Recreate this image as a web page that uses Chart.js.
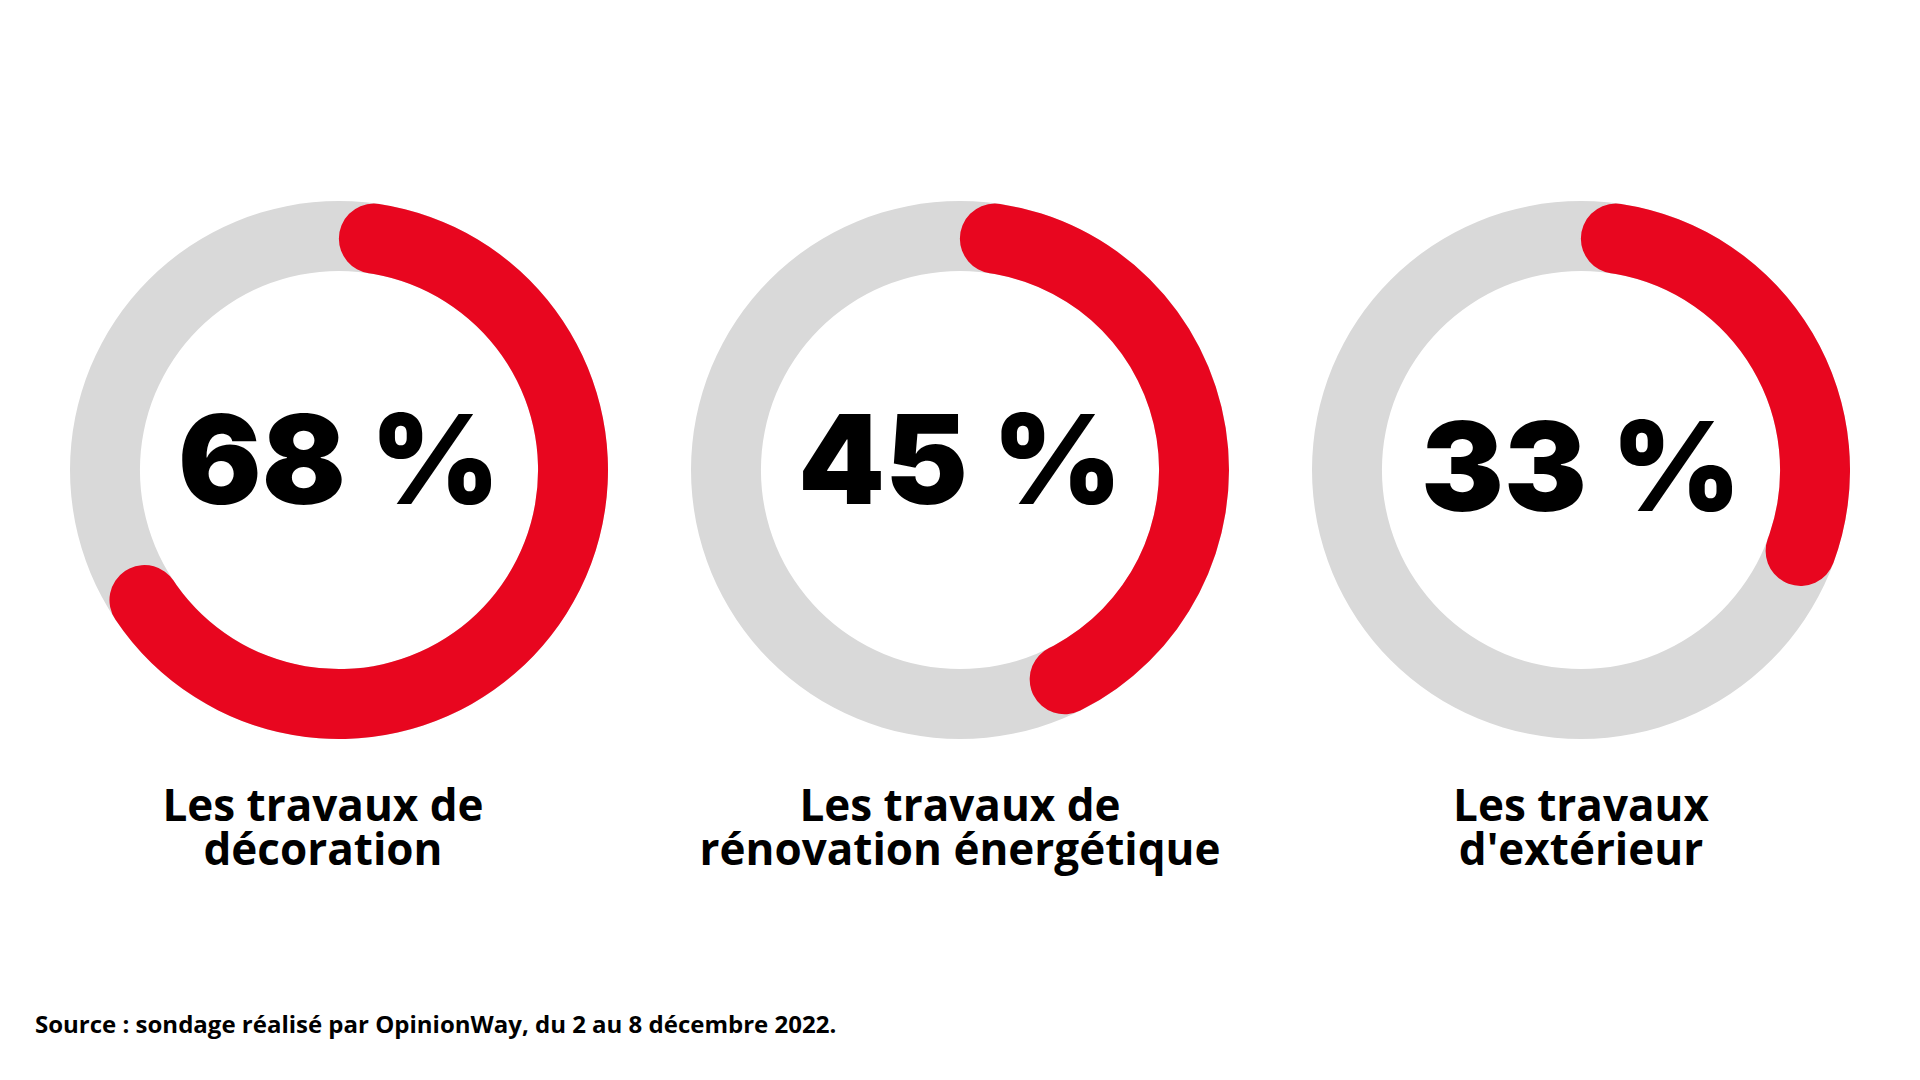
<!DOCTYPE html>
<html lang="fr">
<head>
<meta charset="utf-8">
<title>Travaux</title>
<script src="https://cdn.jsdelivr.net/npm/chart.js@4.4.0/dist/chart.umd.min.js"></script>
<style>
  html, body { margin: 0; padding: 0; background: #ffffff; }
  body { width: 1920px; height: 1080px; position: relative; overflow: hidden; font-family: "Open Sans", sans-serif; }
  .donut { position: absolute; width: 538px; height: 538px; }
  .donut canvas { position: absolute; left: 0; top: 0; }
  .label { position: absolute; width: 620px; text-align: center; font-weight: 700; font-size: 44px; line-height: 44px; color: #000; }
  .source { position: absolute; left: 35px; top: 1007px; font-weight: 700; font-size: 24px; color: #000; white-space: nowrap; }
</style>
</head>
<body>

<div class="donut" id="d0"><canvas id="bg0" width="538" height="538"></canvas><canvas id="fg0" width="538" height="538"></canvas></div>
<div class="donut" id="d1"><canvas id="bg1" width="538" height="538"></canvas><canvas id="fg1" width="538" height="538"></canvas></div>
<div class="donut" id="d2"><canvas id="bg2" width="538" height="538"></canvas><canvas id="fg2" width="538" height="538"></canvas></div>

<div class="label" id="l0"></div>
<div class="label" id="l1"></div>
<div class="label" id="l2"></div>

<div class="source" id="src">Source : sondage réalisé par OpinionWay, du 2 au 8 décembre 2022.</div>

<script>
document.addEventListener("DOMContentLoaded", function () {

    'use strict';

    // data
    var categories = [
        ['Les travaux de', 'décoration'],
        ['Les travaux de', 'rénovation énergétique'],
        ['Les travaux', "d'extérieur"]
    ];
    var values = [68, 45, 33];

    var red = '#e8061f';
    var grey = '#d9d9d9';

    var centersX = [339, 960, 1581];
    var centerY = 470;
    var labelShift = [-16, 0, 0];
    var textShift = [-3, -3, 4];

    var centerText = {
        id: 'centerText',
        afterDraw: function (chart) {
            var arc = chart.getDatasetMeta(0).data[0];
            var ctx = chart.ctx;
            var i = chart.options.plugins.centerText.index;
            ctx.save();
            ctx.font = '900 124px Inter, "Noto Sans", sans-serif';
            ctx.fillStyle = '#000';
            ctx.textAlign = 'center';
            ctx.textBaseline = 'middle';
            ctx.fillText(chart.data.datasets[0].data[0] + ' %', arc.x, arc.y + textShift[i]);
            ctx.restore();
        }
    };

    values.forEach(function (v, i) {
        var box = document.getElementById('d' + i);
        box.style.left = (centersX[i] - 269) + 'px';
        box.style.top = (centerY - 269) + 'px';

        var lab = document.getElementById('l' + i);
        lab.innerHTML = categories[i].join('<br>');
        lab.style.left = (centersX[i] - 310 + labelShift[i]) + 'px';
        lab.style.top = '782px';

        // full grey ring behind
        new Chart(document.getElementById('bg' + i), {
            type: 'doughnut',
            data: { labels: ['total'], datasets: [{ data: [100], backgroundColor: [grey], borderWidth: 0 }] },
            options: {
                responsive: false,
                animation: false,
                cutout: '74%',
                layout: { padding: 0 },
                plugins: { legend: { display: false }, tooltip: { enabled: false } }
            }
        });

        // red share with rounded ends
        new Chart(document.getElementById('fg' + i), {
            type: 'doughnut',
            data: {
                labels: [categories[i].join(' '), 'reste'],
                datasets: [{
                    data: [v, 100 - v],
                    backgroundColor: [red, 'rgba(0,0,0,0)'],
                    borderWidth: 0,
                    borderRadius: function (c) { return c.dataIndex === 0 ? 60 : 0; }
                }]
            },
            options: {
                responsive: false,
                animation: false,
                cutout: '74%',
                layout: { padding: 0 },
                plugins: {
                    legend: { display: false },
                    tooltip: { enabled: false },
                    centerText: { index: i }
                }
            },
            plugins: [centerText]
        });
    });

});
</script>
</body>
</html>
